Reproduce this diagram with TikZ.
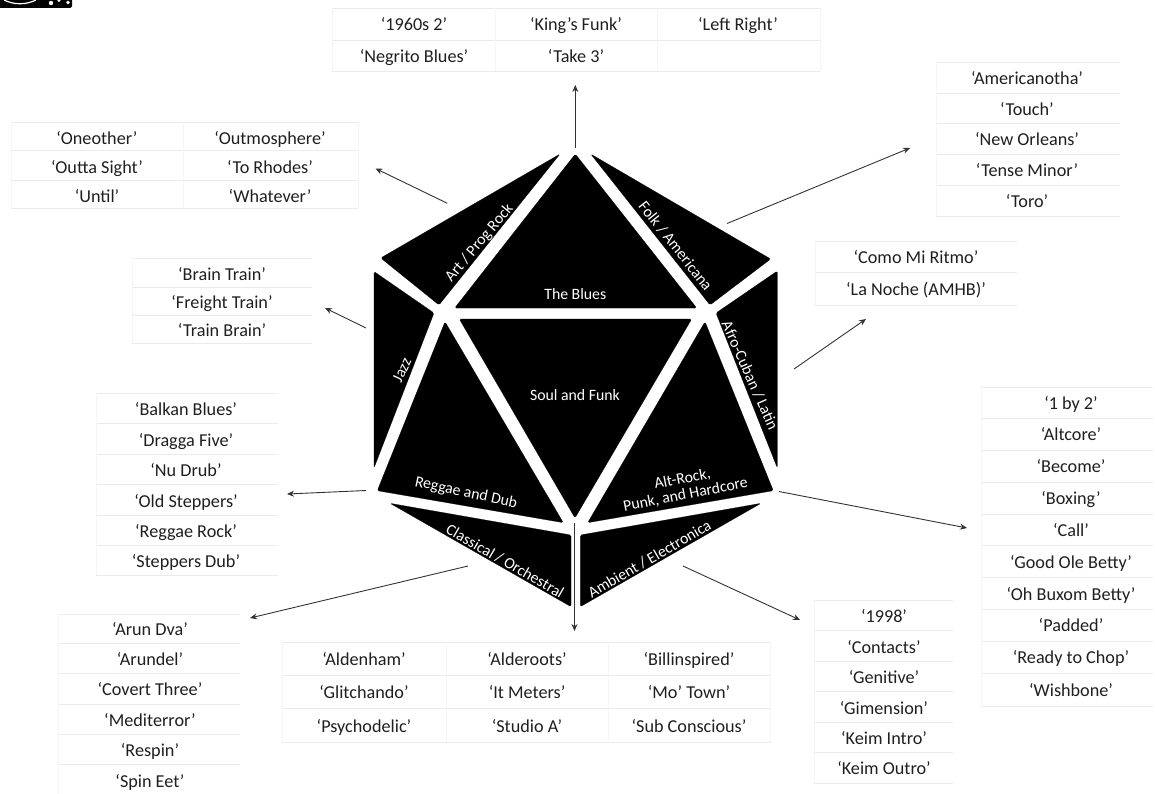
\documentclass[tikz,border=0pt]{standalone}
\usepackage{fontspec}
\setmainfont{Carlito}
\usetikzlibrary{arrows.meta}
\tikzset{
  facet/.style={fill=black,draw=black,line width=0.2pt,rounded corners=1.5pt},
  facetlabel/.style={text=white,font=\fontsize{15.8}{17}\selectfont,inner sep=0pt,align=center},
  cell/.style={text=black!88,font=\fontsize{18.2}{20}\selectfont,inner sep=0pt,anchor=base},
  hline/.style={draw=black!8,line width=0.8pt},
  vline/.style={draw=black!4,line width=0.8pt},
  link/.style={draw=black!80,line width=0.9pt,-{Stealth[length=7pt,width=6pt]}}
}
\newcommand{\tbl}[4]{% x-left, x-right, list of y, list of x for verticals
  \foreach \yy in {#3} {\draw[hline] (#1,\yy) -- (#2,\yy);}
  \foreach \xx in {#4} {\draw[vline] (\xx,\tbltop) -- (\xx,\tblbot);}
}
\newcommand{\tc}[4]{\node[cell] (#1) at ({#2},{#3+6.2}) {#4};}
\begin{document}
\begin{tikzpicture}[x=1pt,y=-1pt]
\useasboundingbox (0,0) rectangle (1155,794);
% corner icon
\fill[black,rounded corners=1.5pt] (-3,-3) rectangle (72,8);
\draw[white,line width=1.2pt] (4,0) .. controls (14,5) and (26,5) .. (36,0);
\fill[white] (51,3) circle (2.2pt) (59,0.5) circle (1.6pt) (68,2.5) circle (1.8pt);
% facets
\fill[facet] (560,154) -- (380.7,258) -- (439,305) -- cycle;
\fill[facet] (590.7,154) -- (770.7,259) -- (710,305) -- cycle;
\fill[facet] (575.3,154) -- (696.7,308) -- (454.7,308) -- cycle;
\fill[facet] (459.3,319) -- (691.7,319) -- (575,518) -- cycle;
\fill[facet] (374,271.5) -- (434,313) -- (374,468) -- cycle;
\fill[facet] (777.3,271) -- (716,313) -- (777.3,468) -- cycle;
\fill[facet] (445,321.7) -- (563.3,522.7) -- (377.3,490.7) -- cycle;
\fill[facet] (705,321.7) -- (773.3,490.7) -- (587.7,522.7) -- cycle;
\fill[facet] (390,503.3) -- (571,535) -- (571,606.7) -- cycle;
\fill[facet] (761,503.3) -- (580.3,535) -- (580.3,606.7) -- cycle;
% facet labels
\node[facetlabel,rotate=50] (art) at (479.5,243) {Art / Prog Rock};
\node[facetlabel,rotate=-51.5] (folk) at (675.5,246) {Folk / Americana};
\node[facetlabel] (blues) at (575.3,294) {The Blues};
\node[facetlabel] (soul) at (575,395) {Soul and Funk};
\node[facetlabel,rotate=-66] (afro) at (750,375.5) {Afro-Cuban / Latin};
\node[facetlabel,rotate=65] (jazz) at (402,370) {Jazz};
\node[facetlabel,rotate=-12] (reggae) at (466,493) {Reggae and Dub};
\node[facetlabel,rotate=11] (alt) at (684,487) {Alt-Rock,\\[-1pt]Punk, and Hardcore};
\node[facetlabel,rotate=-30] (classical) at (505,561) {Classical / Orchestral};
\node[facetlabel,rotate=30] (ambient) at (649.5,559) {Ambient / Electronica};
% tables: horizontal and vertical rules
\def\tbltop{8}\def\tblbot{71}
\tbl{332}{820}{8,40,71}{332,495,657,820}
\def\tbltop{62}\def\tblbot{216}
\tbl{936}{1120}{62,93,123.5,154,185.5,216}{936}
\def\tbltop{241}\def\tblbot{305}
\tbl{815}{1017}{241,272,305}{815}
\def\tbltop{387}\def\tblbot{706}
\tbl{981}{1153}{387,418,450,482,514,545.5,577.5,609,641,673,706}{981}
\def\tbltop{258}\def\tblbot{343}
\tbl{132}{312}{258,287,315,343}{132}
\def\tbltop{393}\def\tblbot{575}
\tbl{96}{278}{393,423,454,484.5,515,545,575}{96}
\def\tbltop{614}\def\tblbot{794}
\tbl{58}{240}{614,643,673,704,734,764}{58}
\def\tbltop{642}\def\tblbot{742}
\tbl{282}{770.5}{642,675,708,742}{282,446,608,770.5}
\def\tbltop{600}\def\tblbot{783}
\tbl{814}{953}{600,630.5,661,691.5,722,752,783}{814}
\def\tbltop{122}\def\tblbot{208}
\tbl{11}{358}{122,150,180,208}{11,183,358}
% cells
\tc{a1}{414}{24}{‘1960s 2’}\tc{a2}{576}{24}{‘King’s Funk’}\tc{a3}{738}{24}{‘Left Right’}
\tc{a4}{414}{56}{‘Negrito Blues’}\tc{a5}{576}{56}{‘Take 3’}
\tc{b1}{1027}{78}{‘Americanotha’}\tc{b2}{1027}{109}{‘Touch’}\tc{b3}{1027}{139.5}{‘New Orleans’}\tc{b4}{1027}{170.5}{‘Tense Minor’}\tc{b5}{1027}{201.5}{‘Toro’}
\tc{c1}{916}{257}{‘Como Mi Ritmo’}\tc{c2}{916}{289}{‘La Noche (AMHB)’}
\tc{d1}{1071}{403}{‘1 by 2’}\tc{d2}{1071}{434.5}{‘Altcore’}\tc{d3}{1071}{466.5}{‘Become’}\tc{d4}{1071}{498.5}{‘Boxing’}\tc{d5}{1071}{530.5}{‘Call’}\tc{d6}{1071}{562}{‘Good Ole Betty’}\tc{d7}{1071}{594}{‘Oh Buxom Betty’}\tc{d8}{1071}{625.5}{‘Padded’}\tc{d9}{1071}{657.5}{‘Ready to Chop’}\tc{d10}{1071}{690}{‘Wishbone’}
\tc{e1}{222}{274}{‘Brain Train’}\tc{e2}{222}{302.5}{‘Freight Train’}\tc{e3}{222}{330.5}{‘Train Brain’}
\tc{f1}{186}{409.5}{‘Balkan Blues’}\tc{f2}{186}{440}{‘Dragga Five’}\tc{f3}{186}{470.5}{‘Nu Drub’}\tc{f4}{186}{501}{‘Old Steppers’}\tc{f5}{186}{531}{‘Reggae Rock’}\tc{f6}{186}{561.5}{‘Steppers Dub’}
\tc{g1}{150}{629}{‘Arun Dva’}\tc{g2}{150}{659}{‘Arundel’}\tc{g3}{150}{689.5}{‘Covert Three’}\tc{g4}{150}{720.5}{‘Mediterror’}\tc{g5}{150}{750.5}{‘Respin’}\tc{g6}{150}{781}{‘Spin Eet’}
\tc{h1}{364}{659}{‘Aldenham’}\tc{h2}{527}{659}{‘Alderoots’}\tc{h3}{689}{659}{‘Billinspired’}
\tc{h4}{364}{692}{‘Glitchando’}\tc{h5}{527}{692}{‘It Meters’}\tc{h6}{689}{692}{‘Mo’ Town’}
\tc{h7}{364}{726}{‘Psychodelic’}\tc{h8}{527}{726}{‘Studio A’}\tc{h9}{689}{726}{‘Sub Conscious’}
\tc{i1}{884}{616}{‘1998’}\tc{i2}{884}{647}{‘Contacts’}\tc{i3}{884}{677}{‘Genitive’}\tc{i4}{884}{708}{‘Gimension’}\tc{i5}{884}{738}{‘Keim Intro’}\tc{i6}{884}{768}{‘Keim Outro’}
\tc{j1}{97}{138}{‘Oneother’}\tc{j2}{270}{138}{‘Outmosphere’}
\tc{j3}{97}{167}{‘Outta Sight’}\tc{j4}{270}{167}{‘To Rhodes’}
\tc{j5}{97}{196}{‘Until’}\tc{j6}{270}{196}{‘Whatever’}
% connector ends
\coordinate (s1) at (575.3,148); \coordinate (e1e) at (575.3,85);
\coordinate (s2) at (447.3,203.3); \coordinate (e2e) at (375.5,168.5);
\coordinate (s3) at (727,223.5); \coordinate (e3e) at (910,148);
\coordinate (s4) at (794,369); \coordinate (e4e) at (866,319);
\coordinate (s5) at (366,328); \coordinate (e5e) at (325,308);
\coordinate (s6) at (366,490.5); \coordinate (e6e) at (287,494);
\coordinate (s7) at (779,491.5); \coordinate (e7e) at (967,528);
\coordinate (s8) at (468,566); \coordinate (e8e) at (250,618);
\coordinate (s9) at (574.5,523); \coordinate (e9e) at (574.5,631);
\coordinate (s10) at (683,566); \coordinate (e10e) at (800,620);
\foreach \n in {1,...,10} {\draw[link] (s\n) -- (e\n e);}
\end{tikzpicture}
\end{document}
